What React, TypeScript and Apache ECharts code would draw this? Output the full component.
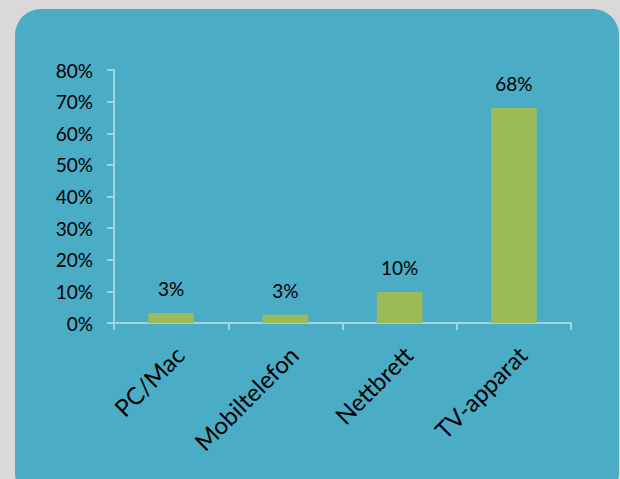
import React, { useEffect, useRef } from "react";
import * as echarts from "echarts";

const categories = ["PC/Mac", "Mobiltelefon", "Nettbrett", "TV-apparat"];
const values = [3.2, 2.6, 9.8, 68];
const yMax = 80;
const yStep = 10;

export default function App() {
  const ref = useRef<HTMLDivElement>(null);
  useEffect(() => {
    document.body.style.margin = "0";
    const chart = echarts.init(ref.current!, null, { renderer: "svg" });
    const font = "Lato, 'Open Sans', sans-serif";
    chart.setOption({
      animation: false,
      backgroundColor: "#d9d9d9",
      graphic: [
        {
          type: "rect",
          z: -10,
          silent: true,
          shape: { x: 15, y: 9, width: 604, height: 490, r: 26 },
          style: { fill: "#4bacc6" },
        },
      ],
      grid: { left: 114, right: 49, top: 70, bottom: 156, containLabel: false },
      xAxis: {
        type: "category",
        data: categories,
        axisLine: { lineStyle: { color: "#a3d3e3", width: 2 } },
        axisTick: { show: true, alignWithLabel: false, length: 7, lineStyle: { color: "#a3d3e3", width: 2 } },
        axisLabel: {
          rotate: 45,
          interval: 0,
          align: "right",
          verticalAlign: "top",
          margin: 19,
          color: "#000",
          fontFamily: font,
          fontSize: 24,
        },
      },
      yAxis: {
        type: "value",
        min: 0,
        max: yMax,
        interval: yStep,
        splitLine: { show: false },
        axisLine: { show: true, lineStyle: { color: "#a3d3e3", width: 2 } },
        axisTick: { show: true, length: 7, lineStyle: { color: "#a3d3e3", width: 2 } },
        axisLabel: {
          formatter: (v: number) => v + "%",
          margin: 21,
          color: "#000",
          fontFamily: font,
          fontSize: 19,
        },
      },
      series: [
        {
          type: "bar",
          data: values,
          barWidth: "40%",
          itemStyle: { color: "#9bbb59" },
          label: {
            show: true,
            position: "top",
            distance: 15,
            color: "#000",
            fontFamily: font,
            fontSize: 19,
            formatter: (p: any) => Math.round(p.value) + "%",
          },
        },
      ],
    });
    return () => chart.dispose();
  }, []);
  return <div ref={ref} style={{ position: "absolute", left: 0, top: 0, width: 620, height: 479 }} />;
}
